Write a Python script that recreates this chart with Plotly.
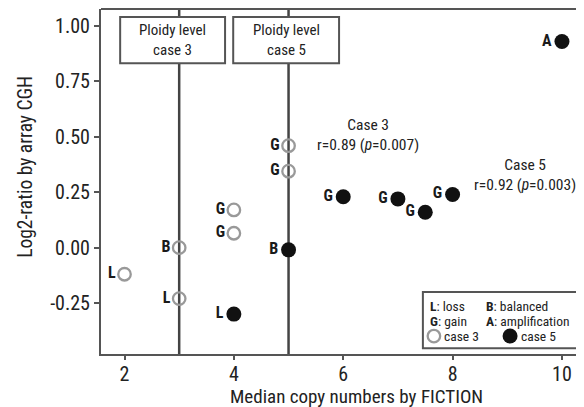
import plotly.graph_objects as go

# ---- data ----
case3_x = [2, 3, 3, 4, 4, 5, 5]
case3_y = [-0.12, 0.00, -0.23, 0.17, 0.065, 0.46, 0.345]
case3_lbl = ["L", "B", "L", "G", "G", "G", "G"]

case5_x = [4, 5, 6, 7, 7.5, 8, 10]
case5_y = [-0.30, -0.01, 0.23, 0.22, 0.16, 0.24, 0.93]
case5_lbl = ["L", "B", "G", "G", "G", "G", "A"]

ploidy_x = [3, 5]
ploidy_lbl = ["Ploidy level<br>case 3", "Ploidy level<br>case 5"]

series_names = ["case 3", "case 5"]

x_ticks = [2, 4, 6, 8, 10]
y_ticks = [-0.25, 0.0, 0.25, 0.5, 0.75, 1.0]
y_ticklbl = ["-0.25", "0.00", "0.25", "0.50", "0.75", "1.00"]

FONT = "Liberation Sans Narrow, Roboto Condensed, DejaVu Sans Condensed, Arial Narrow, sans-serif"
LINE = "#555555"
TXT = "#222222"
LBL_FONT = dict(family=FONT, size=16, color="#1a1a1a", weight="bold")
OPEN_MK = dict(symbol="circle-open", size=12.5, color="#999999",
               line=dict(width=2.3, color="#999999"))
FILL_MK = dict(symbol="circle", size=15, color="#111111")

# The page body has an 8px margin, so the figure is sized to fit the window.
W, H = 584 - 8, 407 - 8

fig = go.Figure()

# markers + labels
fig.add_trace(go.Scatter(x=case3_x, y=case3_y, mode="markers+text", text=case3_lbl,
                         textposition="middle left", showlegend=False, textfont=LBL_FONT,
                         hoverinfo="skip", marker=OPEN_MK, name=series_names[0]))
fig.add_trace(go.Scatter(x=case5_x, y=case5_y, mode="markers+text", text=case5_lbl,
                         textposition="middle left", showlegend=False, textfont=LBL_FONT,
                         hoverinfo="skip", marker=FILL_MK, name=series_names[1]))

# legend key symbols (on an overlay axis spanning the plot area 0..1)
key_x = [0.695, 0.854]
key_y = 0.052
fig.add_trace(go.Scatter(x=[key_x[0]], y=[key_y], mode="markers", marker=OPEN_MK,
                         xaxis="x2", yaxis="y2", showlegend=False, hoverinfo="skip",
                         cliponaxis=False))
fig.add_trace(go.Scatter(x=[key_x[1]], y=[key_y], mode="markers", marker=FILL_MK,
                         xaxis="x2", yaxis="y2", showlegend=False, hoverinfo="skip",
                         cliponaxis=False))

shapes = []
annotations = []

# vertical ploidy lines
for xv in ploidy_x:
    shapes.append(dict(type="line", xref="x", yref="paper", x0=xv, x1=xv, y0=0, y1=1,
                       line=dict(color="#444444", width=2.5), layer="below"))

# top border
shapes.append(dict(type="line", xref="paper", yref="paper", x0=0, x1=1.01, y0=1, y1=1,
                   line=dict(color=LINE, width=2)))

# Ploidy level boxes
box_pos = [(0.040, 0.259), (0.276, 0.497)]
for (x0, x1), txt in zip(box_pos, ploidy_lbl):
    shapes.append(dict(type="rect", xref="paper", yref="paper", x0=x0, x1=x1,
                       y0=0.843, y1=0.977, fillcolor="white",
                       line=dict(color=LINE, width=2), layer="above"))
    annotations.append(dict(xref="paper", yref="paper", x=(x0 + x1) / 2, y=0.91,
                            xanchor="center", yanchor="middle",
                            text=txt, showarrow=False, align="center",
                            font=dict(family=FONT, size=15, color=TXT)))

# correlation annotations
annotations.append(dict(xref="paper", yref="paper", x=0.558, y=0.635,
                        xanchor="center", yanchor="middle",
                        text="Case 3<br>r=0.89 (<i>p</i>=0.007)", showarrow=False,
                        align="center", font=dict(family=FONT, size=15.5, color=TXT)))
annotations.append(dict(xref="paper", yref="paper", x=0.885, y=0.52,
                        xanchor="center", yanchor="middle",
                        text="Case 5<br>r=0.92 (<i>p</i>=0.003)", showarrow=False,
                        align="center", font=dict(family=FONT, size=15.5, color=TXT)))

# legend box and key text
shapes.append(dict(type="rect", xref="paper", yref="paper", x0=0.672, x1=0.994,
                   y0=0.017, y1=0.180, fillcolor="rgba(0,0,0,0)",
                   line=dict(color=LINE, width=2), layer="above"))
for x, y, t in [(0.682, 0.139, "<b>L</b>: loss"), (0.800, 0.139, "<b>B</b>: balanced"),
                (0.682, 0.095, "<b>G</b>: gain"), (0.800, 0.095, "<b>A</b>: amplification"),
                (0.712, key_y, series_names[0]), (0.872, key_y, series_names[1])]:
    annotations.append(dict(xref="paper", yref="paper", x=x, y=y, xanchor="left",
                            yanchor="middle", text=t, showarrow=False,
                            font=dict(family=FONT, size=13.5, color=TXT)))

# axis titles
annotations.append(dict(xref="paper", yref="paper", x=0.534, y=-0.122,
                        xanchor="center", yanchor="middle",
                        text="Median copy numbers by FICTION", showarrow=False,
                        font=dict(family=FONT, size=19, color=TXT)))
annotations.append(dict(xref="paper", yref="paper", x=-0.159, y=0.542,
                        xanchor="center", yanchor="middle", textangle=-90,
                        text="Log2-ratio by array CGH", showarrow=False,
                        font=dict(family=FONT, size=19.5, color=TXT)))

fig.update_layout(
    width=W, height=H,
    margin=dict(l=101 - 8, r=4, t=9 - 8, b=53, autoexpand=False),
    paper_bgcolor="white", plot_bgcolor="white",
    font=dict(family=FONT, size=16, color=TXT),
    shapes=shapes, annotations=annotations, showlegend=False,
    xaxis2=dict(overlaying="x", range=[0, 1], visible=False, fixedrange=True),
    yaxis2=dict(overlaying="y", range=[0, 1], visible=False, fixedrange=True),
    xaxis=dict(range=[1.57, 10.33], tickvals=x_ticks, ticks="outside",
               ticklen=4, tickcolor=LINE, tickwidth=1.5, showgrid=False,
               zeroline=False, showline=True, linecolor=LINE, linewidth=2,
               mirror=False, ticklabelstandoff=-3,
               tickfont=dict(family=FONT, size=20, color=TXT)),
    yaxis=dict(range=[-0.48, 1.077], tickvals=y_ticks, ticktext=y_ticklbl,
               ticks="outside", ticklen=5, tickcolor=LINE, tickwidth=1.5,
               showgrid=False, zeroline=False, showline=True, linecolor=LINE,
               linewidth=2, mirror=False,
               tickfont=dict(family=FONT, size=20, color=TXT)),
)

fig.write_html("out.html")
